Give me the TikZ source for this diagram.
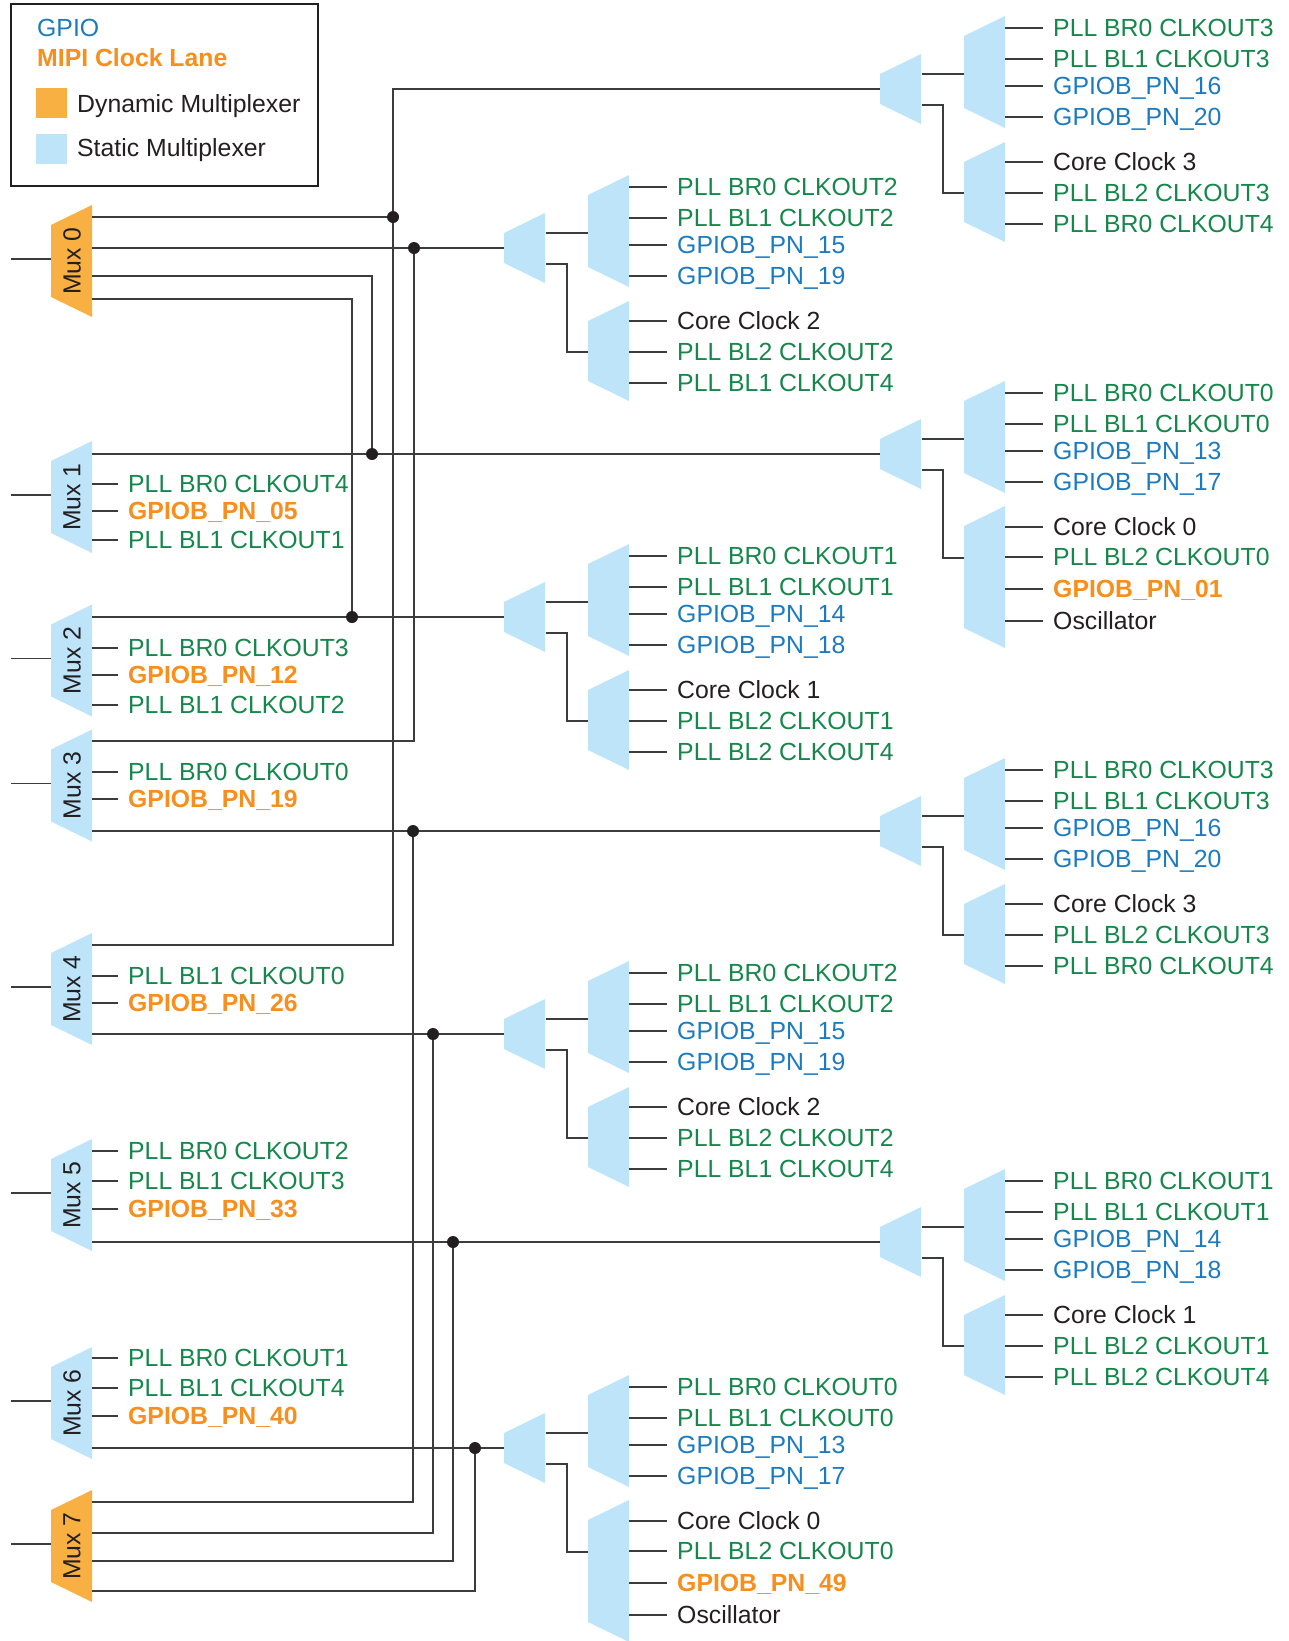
\documentclass[tikz,border=0pt]{standalone}
\usepackage{fontspec}
\setmainfont{Liberation Sans}
\definecolor{cgreen}{RGB}{22,135,75}
\definecolor{cblue}{RGB}{28,123,192}
\definecolor{corange}{RGB}{247,143,30}
\definecolor{mfill}{RGB}{249,176,66}
\definecolor{sfill}{RGB}{190,228,250}
\definecolor{ctext}{RGB}{35,31,32}
\definecolor{cwire}{RGB}{60,60,60}
\newcounter{lblc}
\tikzset{
  wire/.style={draw=cwire, line width=1.3pt},
  dmux/.style={fill=mfill},
  smux/.style={fill=sfill},
  lab/.style={inner sep=0pt, font=\fontsize{24.8}{29}\selectfont},
  gtxt/.style={text=cgreen},
  btxt/.style={text=cblue},
  otxt/.style={text=corange, font=\fontsize{24.8}{29}\selectfont\bfseries},
  ktxt/.style={text=ctext},
  jdot/.style={circle, fill=ctext, inner sep=0pt, minimum size=12pt},
}
% #1 style, #2 x left, #3 y centre, #4 half height at left, #5 name
\newcommand\muxshape[5]{%
  \path[#1] (#2,#3-#4) -- ++(41,-20) -- ++(0,2*#4+40) -- (#2,#3+#4) -- cycle;
  \coordinate (#5) at (#2,#3);}
% #1 x line start, #2 line length, #3 y, #4 style, #5 text
\newcommand\lbl[5]{%
  \stepcounter{lblc}%
  \draw[wire] (#1,#3) -- ++(#2,0);
  \node[lab,#4,anchor=base west] (t\arabic{lblc}) at (#1+#2+10,#3+8.8) {#5};}
% group: #1 x0, #2 y0, #3 name, #4 lower centre offset, #5 lower half height
\newcommand\grp[5]{%
  \muxshape{smux}{#1}{#2}{15}{#3s}
  \muxshape{smux}{#1+84}{#2-17}{36}{#3u}
  \muxshape{smux}{#1+84}{#2+#4}{#5}{#3l}
  \coordinate (#3o1) at (#1+42,#2-15);
  \coordinate (#3o2) at (#1+42,#2+16);
  \coordinate (#3i1) at (#1+84,#2-15);
  \coordinate (#3i2) at (#1+84,#2+104);
  \draw[wire] (#3o1) -- (#3i1);
  \draw[wire] (#3o2) -- (#1+63,#2+16) |- (#3i2);}
% upper labels: #1 x0, #2 y0, texts
\newcommand\up[6]{%
  \lbl{#1+125}{38}{#2-61}{gtxt}{#3}
  \lbl{#1+125}{38}{#2-30}{gtxt}{#4}
  \lbl{#1+125}{38}{#2-3}{btxt}{#5}
  \lbl{#1+125}{38}{#2+28}{btxt}{#6}}
\newcommand\lowA[5]{%
  \lbl{#1+125}{38}{#2+73}{ktxt}{#3}
  \lbl{#1+125}{38}{#2+104}{gtxt}{#4}
  \lbl{#1+125}{38}{#2+135}{gtxt}{#5}}
\newcommand\lowB[6]{%
  \lbl{#1+125}{38}{#2+73}{ktxt}{#3}
  \lbl{#1+125}{38}{#2+103}{gtxt}{#4}
  \lbl{#1+125}{38}{#2+135}{otxt}{#5}
  \lbl{#1+125}{38}{#2+167}{ktxt}{#6}}
\begin{document}
\begin{tikzpicture}[x=1pt,y=-1pt]
\useasboundingbox (0,0) rectangle (1288,1641);

% ---------- legend ----------
\draw[line width=1.2pt, draw=ctext] (11,4) rectangle (318,186);
\node[lab,btxt,anchor=base west] (lg1) at (37,28+8.8) {GPIO};
\node[lab,otxt,anchor=base west] (lg2) at (37,58+8.8) {MIPI Clock Lane};
\fill[mfill] (36,88) rectangle (67,118);
\node[lab,ktxt,anchor=base west] (lg3) at (77,104+8.8) {Dynamic Multiplexer};
\fill[sfill] (36,134) rectangle (67,164);
\node[lab,ktxt,anchor=base west] (lg4) at (77,148+8.8) {Static Multiplexer};

% ---------- left muxes ----------
\muxshape{dmux}{51}{261}{36}{m0}
\muxshape{smux}{51}{497}{36}{m1}
\muxshape{smux}{51}{660.5}{36}{m2}
\muxshape{smux}{51}{785.5}{36}{m3}
\muxshape{smux}{51}{989}{36}{m4}
\muxshape{smux}{51}{1195}{36}{m5}
\muxshape{smux}{51}{1403}{36}{m6}
\muxshape{dmux}{51}{1546}{36}{m7}
\foreach \c/\n [count=\i from 0] in {261/0,497/1,660.5/2,785.5/3,989/4,1195/5,1403/6,1546/7}{
  \node[lab,ktxt,rotate=90] (mt\n) at (72,\c) {Mux \n};
  \coordinate (in\n) at (11,\c-2);
  \draw[wire] (in\n) -- (51,\c-2);
}

% left mux input labels
\lbl{92}{26}{484}{gtxt}{PLL BR0 CLKOUT4}
\lbl{92}{26}{511}{otxt}{GPIOB\_PN\_05}
\lbl{92}{26}{540}{gtxt}{PLL BL1 CLKOUT1}
\lbl{92}{26}{648}{gtxt}{PLL BR0 CLKOUT3}
\lbl{92}{26}{675}{otxt}{GPIOB\_PN\_12}
\lbl{92}{26}{705}{gtxt}{PLL BL1 CLKOUT2}
\lbl{92}{26}{772}{gtxt}{PLL BR0 CLKOUT0}
\lbl{92}{26}{799}{otxt}{GPIOB\_PN\_19}
\lbl{92}{26}{976}{gtxt}{PLL BL1 CLKOUT0}
\lbl{92}{26}{1003}{otxt}{GPIOB\_PN\_26}
\lbl{92}{26}{1151}{gtxt}{PLL BR0 CLKOUT2}
\lbl{92}{26}{1181}{gtxt}{PLL BL1 CLKOUT3}
\lbl{92}{26}{1209}{otxt}{GPIOB\_PN\_33}
\lbl{92}{26}{1358}{gtxt}{PLL BR0 CLKOUT1}
\lbl{92}{26}{1388}{gtxt}{PLL BL1 CLKOUT4}
\lbl{92}{26}{1416}{otxt}{GPIOB\_PN\_40}

% ---------- groups ----------
\grp{880}{89}{ra}{103}{30}
\up{880}{89}{PLL BR0 CLKOUT3}{PLL BL1 CLKOUT3}{GPIOB\_PN\_16}{GPIOB\_PN\_20}
\lowA{880}{89}{Core Clock 3}{PLL BL2 CLKOUT3}{PLL BR0 CLKOUT4}

\grp{504}{248}{la}{103}{30}
\up{504}{248}{PLL BR0 CLKOUT2}{PLL BL1 CLKOUT2}{GPIOB\_PN\_15}{GPIOB\_PN\_19}
\lowA{504}{248}{Core Clock 2}{PLL BL2 CLKOUT2}{PLL BL1 CLKOUT4}

\grp{880}{454}{rb}{123}{51}
\up{880}{454}{PLL BR0 CLKOUT0}{PLL BL1 CLKOUT0}{GPIOB\_PN\_13}{GPIOB\_PN\_17}
\lowB{880}{454}{Core Clock 0}{PLL BL2 CLKOUT0}{GPIOB\_PN\_01}{Oscillator}

\grp{504}{617}{lb}{103}{30}
\up{504}{617}{PLL BR0 CLKOUT1}{PLL BL1 CLKOUT1}{GPIOB\_PN\_14}{GPIOB\_PN\_18}
\lowA{504}{617}{Core Clock 1}{PLL BL2 CLKOUT1}{PLL BL2 CLKOUT4}

\grp{880}{831}{rc}{103}{30}
\up{880}{831}{PLL BR0 CLKOUT3}{PLL BL1 CLKOUT3}{GPIOB\_PN\_16}{GPIOB\_PN\_20}
\lowA{880}{831}{Core Clock 3}{PLL BL2 CLKOUT3}{PLL BR0 CLKOUT4}

\grp{504}{1034}{lc}{103}{30}
\up{504}{1034}{PLL BR0 CLKOUT2}{PLL BL1 CLKOUT2}{GPIOB\_PN\_15}{GPIOB\_PN\_19}
\lowA{504}{1034}{Core Clock 2}{PLL BL2 CLKOUT2}{PLL BL1 CLKOUT4}

\grp{880}{1242}{rd}{103}{30}
\up{880}{1242}{PLL BR0 CLKOUT1}{PLL BL1 CLKOUT1}{GPIOB\_PN\_14}{GPIOB\_PN\_18}
\lowA{880}{1242}{Core Clock 1}{PLL BL2 CLKOUT1}{PLL BL2 CLKOUT4}

\grp{504}{1448}{ld}{123}{51}
\up{504}{1448}{PLL BR0 CLKOUT0}{PLL BL1 CLKOUT0}{GPIOB\_PN\_13}{GPIOB\_PN\_17}
\lowB{504}{1448}{Core Clock 0}{PLL BL2 CLKOUT0}{GPIOB\_PN\_49}{Oscillator}

% ---------- routing ----------
% Mux 0 / Mux 4 -> right group a
\draw[wire] (ras) -- (393,89) -- (393,945) -- (92,945);
\draw[wire] (92,217) -- (393,217);
% Mux 0 / Mux 3 -> left group a
\draw[wire] (92,248) -- (las);
\draw[wire] (414,248) -- (414,741) -- (92,741);
% Mux 0 / Mux 1 -> right group b
\draw[wire] (92,276) -- (372,276) -- (372,454);
\draw[wire] (92,454) -- (rbs);
% Mux 0 / Mux 2 -> left group b
\draw[wire] (92,299) -- (352,299) -- (352,617);
\draw[wire] (92,617) -- (lbs);
% Mux 3 / Mux 7 -> right group c
\draw[wire] (92,831) -- (rcs);
\draw[wire] (413,831) -- (413,1502) -- (92,1502);
% Mux 4 / Mux 7 -> left group c
\draw[wire] (92,1034) -- (lcs);
\draw[wire] (433,1034) -- (433,1533) -- (92,1533);
% Mux 5 / Mux 7 -> right group d
\draw[wire] (92,1242) -- (rds);
\draw[wire] (453,1242) -- (453,1561) -- (92,1561);
% Mux 6 / Mux 7 -> left group d
\draw[wire] (92,1448) -- (lds);
\draw[wire] (475,1448) -- (475,1591) -- (92,1591);

% junction dots
\node[jdot] (j1) at (393,217) {};
\node[jdot] (j2) at (414,248) {};
\node[jdot] (j3) at (372,454) {};
\node[jdot] (j4) at (352,617) {};
\node[jdot] (j5) at (413,831) {};
\node[jdot] (j6) at (433,1034) {};
\node[jdot] (j7) at (453,1242) {};
\node[jdot] (j8) at (475,1448) {};
\end{tikzpicture}
\end{document}
